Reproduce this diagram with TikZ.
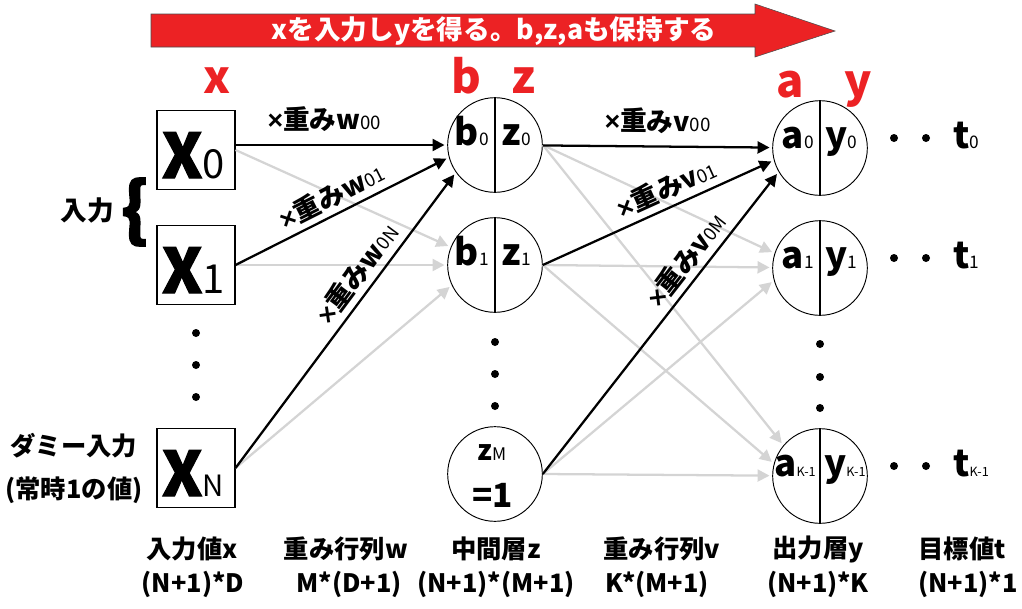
\documentclass[tikz,border=0pt]{standalone}
\usepackage{fontspec}
\setmainfont{Noto Sans CJK JP}
\newfontfamily\heavyfont{Noto Sans CJK JP}[BoldFeatures={FakeBold=2}]
\newfontfamily\timesfont{Liberation Sans}
\usetikzlibrary{arrows.meta}
\definecolor{NetRed}{RGB}{236,34,36}
\definecolor{EdgeGray}{RGB}{212,212,212}
\newcommand{\ix}[2]{{\mdseries\fontsize{#1}{#1}\selectfont #2}}
\newcommand{\tms}{{\timesfont\bfseries ×}}

\begin{document}
\begin{tikzpicture}[x=0.75pt,y=-0.75pt,
  inbox/.style={draw,line width=0.8pt,minimum width=58.5pt,minimum height=59pt,inner sep=0pt},
  unit/.style={draw,circle,line width=0.7pt,minimum size=71pt,inner sep=0pt},
  bigx/.style={font=\fontsize{46}{46}\selectfont\heavyfont\bfseries,anchor=base west,inner sep=0pt},
  ulab/.style={font=\fontsize{27.5}{27.5}\selectfont\bfseries,inner sep=0pt},
  rlab/.style={font=\fontsize{34}{34}\selectfont\bfseries,text=NetRed,anchor=base,inner sep=0pt},
  wlab/.style={font=\fontsize{20}{20}\selectfont\bfseries,sloped,above=2pt,inner sep=2pt},
  blab/.style={font=\fontsize{19}{19}\selectfont\bfseries,inner sep=0pt},
  wb/.style={line width=1.7pt,-{Triangle[length=9pt,width=9pt]},shorten >=2pt},
  wg/.style={wb,color=EdgeGray},
  divider/.style={line width=1.7pt}]
\useasboundingbox (0,0) rectangle (1022,608);

% title arrow
\fill[NetRed,draw=black!70,line width=0.4pt] (151,14) -- (755,14) -- (755,4) -- (835,31) -- (755,57) -- (755,47) -- (151,47) -- cycle;
\node[font=\fontsize{20}{20}\selectfont\bfseries,text=white] (title) at (494,31) {xを入力しyを得る。b,z,aも保持する};

% layer names
\node[rlab] (lx) at (217,93) {x};
\node[rlab] (lb) at (466,93) {b};
\node[rlab] (lz) at (524,93) {z};
\node[rlab] (la) at (790,97) {a};
\node[rlab] (ly) at (858,97) {y};

% input layer
\node[inbox] (x0) at (196,150) {};
\node[inbox] (x1) at (196,265) {};
\node[inbox] (xN) at (196,468) {};
\node[bigx] (x0t) at ([xshift=4pt,yshift=-21pt]x0.west) {X\ix{30}{0}};
\node[bigx] (x1t) at ([xshift=4pt,yshift=-21pt]x1.west) {X\ix{30}{1}};
\node[bigx] (xNt) at ([xshift=4pt,yshift=-21pt]xN.west) {X\ix{22}{N}};
\foreach \y in {333,365,397} \fill (196,\y) circle (4);

\node[font=\fontsize{20}{20}\selectfont\bfseries] (inp) at (87,210) {入力};
\node[font=\fontsize{52}{52}\selectfont\heavyfont\bfseries] (brace) at (135,212) {\{};
\node[blab] (dummy) at (74,446) {ダミー入力};
\node[blab] (dummyval) at (74,490) {(常時1の値)};

% hidden layer
\node[unit] (h0) at (495,145) {};
\node[unit] (h1) at (495,265) {};
\node[unit] (hM) at (495,474) {};
\node[ulab,anchor=base east] (b0) at ([xshift=-4.5pt]h0.center) {b\ix{13}{0}};
\node[ulab,anchor=base west] (z0) at ([xshift=5pt]h0.center) {z\ix{13}{0}};
\node[ulab,anchor=base east] (b1) at ([xshift=-4.5pt]h1.center) {b\ix{13}{1}};
\node[ulab,anchor=base west] (z1) at ([xshift=5pt]h1.center) {z\ix{13}{1}};
\node[ulab,font=\fontsize{21}{21}\selectfont\bfseries,anchor=base] (zM) at ([xshift=-2pt,yshift=10.5pt]hM.center) {z\ix{13}{M}};
\node[ulab,font=\fontsize{25}{25}\selectfont\bfseries,anchor=base] (zMv) at ([xshift=-2pt,yshift=-25pt]hM.center) {=1};
\draw[divider] (h0.north) -- (h0.south);
\draw[divider] (h1.north) -- (h1.south);
\foreach \y in {342,374,406} \fill (495,\y) circle (4);

% output layer
\node[unit] (o0) at (820,148) {};
\node[unit] (o1) at (820,268) {};
\node[unit] (oK) at (820,476) {};
\node[ulab,anchor=base east] (a0) at ([xshift=-4.5pt]o0.center) {a\ix{13}{0}};
\node[ulab,anchor=base west] (y0) at ([xshift=4pt]o0.center) {y\ix{13}{0}};
\node[ulab,anchor=base east] (a1) at ([xshift=-4.5pt]o1.center) {a\ix{13}{1}};
\node[ulab,anchor=base west] (y1) at ([xshift=4pt]o1.center) {y\ix{13}{1}};
\node[ulab,anchor=base east] (aK) at ([xshift=-3pt]oK.center) {a\ix{9.5}{K-1}};
\node[ulab,anchor=base west] (yK) at ([xshift=3pt]oK.center) {y\ix{9.5}{K-1}};
\draw[divider] (o0.north) -- (o0.south);
\draw[divider] (o1.north) -- (o1.south);
\draw[divider] (oK.north) -- (oK.south);
\foreach \y in {344,377,408} \fill (820,\y) circle (4);

% targets
\foreach \n/\y/\s/\f in {0/148/0/13,1/268/1/13,K/476/K-1/9.5}{
  \fill (894,\y-10) circle (4);
  \fill (926,\y-10) circle (4);
  \node[ulab,anchor=base west] (t\n) at (953,\y) {t\ix{\f}{\s}};
}

% weights, grey ones first
\draw[wg] (x0.east) -- (h1.158);
\draw[wg] (x1.east) -- (h1);
\draw[wg] (xN.east) -- (h1.205);
\draw[wg] (h0.east) -- (o1.162);
\draw[wg] (h0.east) -- (oK.140);
\draw[wg] (h1.east) -- (o1);
\draw[wg] (h1.east) -- (oK.165);
\draw[wg] (hM.east) -- (o1.195);
\draw[wg] (hM.east) -- (oK);

\draw[wb] (x0.east |- h0) -- node[wlab,pos=0.42,above=5pt] {\tms 重みw\ix{14}{00}} (h0);
\draw[wb] (x1.east) -- node[wlab,pos=0.49] {\tms 重みw\ix{14}{01}} (h0.195);
\draw[wb] (xN.east) -- node[wlab,pos=0.62] {\tms 重みw\ix{14}{0N}} (h0.215);
\draw[wb] (h0) -- node[wlab,pos=0.5,above=5pt] {\tms 重みv\ix{14}{00}} (o0);
\draw[wb] (h1.east) -- node[wlab,pos=0.57] {\tms 重みv\ix{14}{01}} (o0.195);
\draw[wb] (hM.east) -- node[wlab,pos=0.67] {\tms 重みv\ix{14}{0M}} (o0.210);

% bottom captions
\node[blab] (capx) at (192,549) {入力値x};
\node[blab] (capw) at (346,549) {重み行列w};
\node[blab] (capz) at (496,549) {中間層z};
\node[blab] (capv) at (662,549) {重み行列v};
\node[blab] (capy) at (818,549) {出力層y};
\node[blab] (capt) at (962,549) {目標値t};
\node[blab] (dimx) at (193,584) {(N+1)*D};
\node[blab] (dimw) at (349,584) {M*(D+1)};
\node[blab] (dimz) at (496,584) {(N+1)*(M+1)};
\node[blab] (dimv) at (657,584) {K*(M+1)};
\node[blab] (dimy) at (818,584) {(N+1)*K};
\node[blab] (dimt) at (968,584) {(N+1)*1};
\end{tikzpicture}
\end{document}
